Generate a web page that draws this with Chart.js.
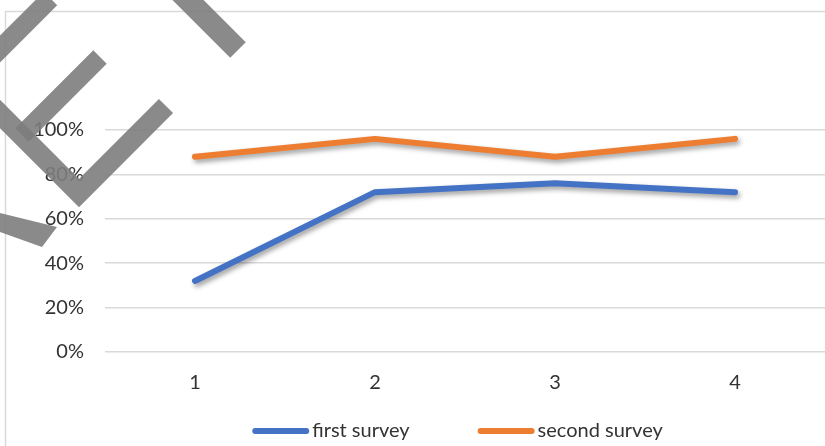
<!DOCTYPE html>
<html>
<head>
<meta charset="utf-8">
<script src="https://cdn.jsdelivr.net/npm/chart.js@4.4.1/dist/chart.umd.min.js"></script>
<style>
  html, body { margin: 0; padding: 0; background: #ffffff; overflow: hidden; }
  #wrap { position: relative; width: 825px; height: 446px; }
</style>
</head>
<body>
<div id="wrap"><canvas id="c" width="825" height="446"></canvas></div>
<script>
// Survey results per round
const categories = ['1', '2', '3', '4'];
const firstSurvey = [0.32, 0.72, 0.76, 0.72];
const secondSurvey = [0.88, 0.96, 0.88, 0.96];
const yTickValues = [0, 0.2, 0.4, 0.6, 0.8, 1.0];
const seriesNames = ['first survey', 'second survey'];
const seriesColors = ['#4472C4', '#ED7D31'];

const TEXT_COLOR = '#333333';
const GRID_COLOR = '#d9d9d9';
const FONT_FAMILY = 'Lato, "Open Sans", sans-serif';
const FONT_SIZE = 20;

// Soft drop shadow under each series line
const lineShadow = {
  id: 'lineShadow',
  beforeDatasetDraw(chart) {
    const ctx = chart.ctx;
    ctx.save();
    ctx.shadowColor = 'rgba(0,0,0,0.38)';
    ctx.shadowBlur = 5;
    ctx.shadowOffsetX = 2;
    ctx.shadowOffsetY = 3;
  },
  afterDatasetDraw(chart) {
    chart.ctx.restore();
  }
};

// Outer chart frame (top and left edges)
const chartFrame = {
  id: 'chartFrame',
  beforeDraw(chart) {
    const ctx = chart.ctx;
    ctx.save();
    ctx.strokeStyle = GRID_COLOR;
    ctx.lineWidth = 1.5;
    ctx.beginPath();
    ctx.moveTo(5.5, chart.height + 2);
    ctx.lineTo(5.5, 11.5);
    ctx.lineTo(chart.width + 2, 11.5);
    ctx.stroke();
    ctx.restore();
  }
};

// Legend along the bottom: line sample followed by series name
const bottomLegend = {
  id: 'bottomLegend',
  afterDraw(chart) {
    const ctx = chart.ctx;
    const sample = 57, textGap = 3, itemGap = 68, centerX = 457.5, y = 431;
    ctx.save();
    ctx.font = FONT_SIZE + 'px ' + FONT_FAMILY;
    const items = chart.data.datasets.map(ds => ({
      label: ds.label,
      color: ds.borderColor,
      w: sample + textGap + ctx.measureText(ds.label).width
    }));
    const total = items.reduce((s, it) => s + it.w, 0) + itemGap * (items.length - 1);
    let x = centerX - total / 2;
    items.forEach(it => {
      ctx.strokeStyle = it.color;
      ctx.lineWidth = 6;
      ctx.lineCap = 'round';
      ctx.beginPath();
      ctx.moveTo(x + 3, y);
      ctx.lineTo(x + sample - 3, y);
      ctx.stroke();
      ctx.fillStyle = TEXT_COLOR;
      ctx.textBaseline = 'middle';
      ctx.textAlign = 'left';
      ctx.fillText(it.label, x + sample + textGap, y);
      x += it.w + itemGap;
    });
    ctx.restore();
  }
};

// Gray diagonal strokes laid over the upper-left corner
const cornerMarks = {
  id: 'cornerMarks',
  afterDraw(chart) {
    const ctx = chart.ctx;
    ctx.save();
    ctx.strokeStyle = 'rgba(125,125,125,0.9)';
    ctx.fillStyle = 'rgba(125,125,125,0.9)';
    ctx.lineCap = 'butt';
    ctx.lineJoin = 'miter';
    const stroke = (pts, w) => {
      ctx.lineWidth = w;
      ctx.beginPath();
      ctx.moveTo(pts[0][0], pts[0][1]);
      for (let i = 1; i < pts.length; i++) ctx.lineTo(pts[i][0], pts[i][1]);
      ctx.stroke();
    };
    stroke([[-20, 69], [50.5, -1.5]], 19);
    stroke([[178, -10], [238, 50]], 22);
    stroke([[100, 57], [22, 135]], 19);
    stroke([[-20, 94], [79, 193], [166, 106]], 20);
    ctx.beginPath();
    ctx.moveTo(0, 213);
    ctx.lineTo(57, 227);
    ctx.lineTo(42, 247);
    ctx.lineTo(0, 232);
    ctx.closePath();
    ctx.fill();
    ctx.restore();
  }
};

const makeDataset = (i, values) => ({
  label: seriesNames[i],
  data: values,
  borderColor: seriesColors[i],
  backgroundColor: seriesColors[i],
  borderWidth: 6,
  borderCapStyle: 'round',
  borderJoinStyle: 'round',
  pointRadius: 0,
  pointHoverRadius: 0,
  tension: 0,
  fill: false
});

new Chart(document.getElementById('c'), {
  type: 'line',
  data: {
    labels: categories,
    datasets: [makeDataset(0, firstSurvey), makeDataset(1, secondSurvey)]
  },
  options: {
    responsive: false,
    animation: false,
    devicePixelRatio: 1,
    layout: { padding: { top: 130, left: 0, right: 0, bottom: 0 } },
    plugins: {
      legend: { display: false },
      tooltip: { enabled: false },
      title: { display: false }
    },
    scales: {
      x: {
        type: 'category',
        offset: true,
        grid: { display: false, drawTicks: false },
        border: { display: false },
        ticks: {
          color: TEXT_COLOR,
          font: { family: FONT_FAMILY, size: FONT_SIZE },
          padding: 19,
          maxRotation: 0
        },
        afterFit(scale) { scale.height = 94; }
      },
      y: {
        min: 0,
        max: 1,
        afterBuildTicks(scale) {
          scale.ticks = yTickValues.map(v => ({ value: v }));
        },
        grid: { color: GRID_COLOR, lineWidth: 1.5, drawTicks: false },
        border: { display: false },
        ticks: {
          color: TEXT_COLOR,
          font: { family: FONT_FAMILY, size: FONT_SIZE },
          padding: 21,
          callback: v => Math.round(v * 100) + '%'
        },
        afterFit(scale) { scale.width = 105; }
      }
    }
  },
  plugins: [chartFrame, lineShadow, bottomLegend, cornerMarks]
});
</script>
</body>
</html>
